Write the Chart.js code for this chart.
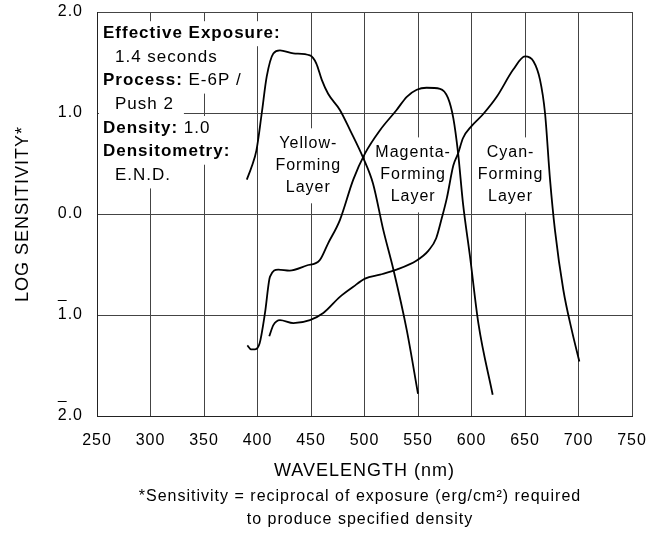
<!DOCTYPE html>
<html>
<head>
<meta charset="utf-8">
<script src="https://cdn.jsdelivr.net/npm/chart.js@4.4.0/dist/chart.umd.min.js"></script>
<style>
  html, body { margin: 0; padding: 0; background: #fff; }
  canvas { display: block; }
</style>
</head>
<body>
<canvas id="chart" width="665" height="542"></canvas>
<script>
// Spectral sensitivity curves (wavelength nm / log sensitivity)
const yellowNm  = [390, 394.6, 399, 404, 408.6, 414.8, 421, 433.5, 449, 455, 460, 466, 477, 486.5, 499, 508, 517.6, 527, 539.5, 550];
const yellowLog = [0.34, 0.47, 0.63, 1.0, 1.36, 1.59, 1.62, 1.59, 1.57, 1.49, 1.33, 1.19, 1.03, 0.83, 0.55, 0.30, -0.16, -0.55, -1.15, -1.78];

const magentaNm  = [390.5, 394, 397.7, 402, 407, 411.7, 419.4, 430, 446, 458, 466, 477, 489.5, 500.5, 514.5, 530, 539.5, 548.8, 558, 570.6, 578, 583, 587.5, 592, 598.6, 606.4, 619.8];
const magentaLog = [-1.30, -1.34, -1.34, -1.28, -0.98, -0.62, -0.55, -0.56, -0.51, -0.46, -0.29, -0.06, 0.34, 0.60, 0.83, 1.03, 1.16, 1.23, 1.25, 1.24, 1.15, 0.95, 0.60, 0.11, -0.42, -1.08, -1.79];

const cyanNm  = [411, 414.8, 421, 433.5, 449, 461.5, 477, 489.5, 500.5, 514.5, 530, 548.8, 560, 567, 572, 577, 583, 587.5, 592, 600, 611, 623.6, 639, 650, 658, 664, 668.7, 673.4, 678, 685.8, 693.7, 700.8];
const cyanLog = [-1.21, -1.10, -1.05, -1.08, -1.05, -0.98, -0.82, -0.72, -0.64, -0.60, -0.55, -0.46, -0.36, -0.24, -0.05, 0.16, 0.48, 0.60, 0.75, 0.87, 0.99, 1.16, 1.43, 1.56, 1.51, 1.33, 1.0, 0.34, -0.16, -0.75, -1.15, -1.46];

// y ticks: negative characteristics are written with a bar over the digit
const yTickValues = [-2, -1, 0, 1, 2];
const yTickLabels = ['2.0', '1.0', '0.0', '1.0', '2.0'];
const yTickBarred = [true, true, false, false, false];

const boxText = [
  [['Effective Exposure:', true]],
  [['1.4 seconds', false]],
  [['Process:', true], [' E-6P /', false]],
  [['Push 2', false]],
  [['Density:', true], [' 1.0', false]],
  [['Densitometry:', true]],
  [['E.N.D.', false]]
];
const layerLabels = [
  ['Yellow-', 'Forming', 'Layer'],
  ['Magenta-', 'Forming', 'Layer'],
  ['Cyan-', 'Forming', 'Layer']
];
const footnote = [
  '*Sensitivity = reciprocal of exposure (erg/cm\u00B2) required',
  'to produce specified density'
];

const FONT = "'Liberation Sans', Arial, Helvetica, sans-serif";
const toPts = (xs, ys) => xs.map((x, i) => ({ x: x, y: ys[i] }));

// text overlays: condition box, layer names, tick bars, footnote
const notesPlugin = {
  id: 'notes',
  beforeDraw(chart) {
    chart.ctx.letterSpacing = '1px';
  },
  beforeDatasetsDraw(chart) {
    const { ctx } = chart;
    const xs = chart.scales.x, ys = chart.scales.y;
    ctx.save();
    ctx.textBaseline = 'middle';
    ctx.fillStyle = '#000';

    // condition box, top left
    const left = xs.getPixelForValue(255.6);
    const top = ys.getPixelForValue(1.79);
    const step = 23.7;
    const indent = [0, 12, 0, 12, 0, 0, 12];
    const rows = boxText.map((segs, i) => {
      let w = 0;
      segs.forEach(([t, b]) => { ctx.font = (b ? 'bold ' : '') + '17px ' + FONT; w += ctx.measureText(t).width; });
      return { segs, x: left + indent[i], y: top + i * step, w };
    });
    ctx.fillStyle = '#fff';
    rows.forEach(r => ctx.fillRect(left - 4, r.y - 12, r.x - left + r.w + 14, 25));
    ctx.fillStyle = '#000';
    rows.forEach(r => {
      let x = r.x;
      r.segs.forEach(([t, b]) => {
        ctx.font = (b ? 'bold ' : '') + '17px ' + FONT;
        ctx.textAlign = 'left';
        ctx.fillText(t, x, r.y);
        x += ctx.measureText(t).width;
      });
    });

    // layer labels
    const anchors = [[447, 0.70], [545, 0.61], [636, 0.61]];
    ctx.font = '16px ' + FONT;
    ctx.textAlign = 'center';
    layerLabels.forEach((lines, k) => {
      const cx = xs.getPixelForValue(anchors[k][0]);
      const cy = ys.getPixelForValue(anchors[k][1]);
      const w = Math.max(...lines.map(l => ctx.measureText(l).width));
      ctx.fillStyle = '#fff';
      ctx.fillRect(cx - w / 2 - 4, cy - 15, w + 8, (lines.length - 1) * 22 + 31);
      ctx.fillStyle = '#000';
      lines.forEach((l, i) => ctx.fillText(l, cx + 0.5, cy + i * 22));
    });
    ctx.restore();
  },
  afterDraw(chart) {
    const { ctx } = chart;
    const ys = chart.scales.y;
    ctx.save();
    ctx.font = '16px ' + FONT;
    ctx.fillStyle = '#000';
    ctx.strokeStyle = '#000';
    ctx.lineWidth = 1;

    // bar over the first digit of negative y tick labels
    yTickValues.forEach((v, i) => {
      if (!yTickBarred[i]) return;
      const label = yTickLabels[i];
      const right = ys.right - ys.options.ticks.padding;
      const x0 = right - ctx.measureText(label).width;
      const w = ctx.measureText(label[0]).width - 1;
      const py = Math.round(ys.getPixelForValue(v) - 15) + 0.5;
      ctx.beginPath();
      ctx.moveTo(x0, py);
      ctx.lineTo(x0 + w, py);
      ctx.stroke();
    });

    // footnote under the x axis title
    ctx.textAlign = 'center';
    ctx.textBaseline = 'middle';
    footnote.forEach((l, i) => ctx.fillText(l, 360, 497 + i * 23));
    ctx.restore();
  }
};

const lineStyle = {
  borderColor: '#000',
  borderWidth: 1.8,
  pointRadius: 0,
  fill: false,
  cubicInterpolationMode: 'monotone'
};

new Chart(document.getElementById('chart'), {
  type: 'line',
  data: {
    datasets: [
      { label: 'Yellow-Forming Layer', data: toPts(yellowNm, yellowLog), ...lineStyle },
      { label: 'Magenta-Forming Layer', data: toPts(magentaNm, magentaLog), ...lineStyle },
      { label: 'Cyan-Forming Layer', data: toPts(cyanNm, cyanLog), ...lineStyle }
    ]
  },
  options: {
    responsive: false,
    animation: false,
    layout: { padding: { left: 0, top: 12, right: 33, bottom: 56 } },
    plugins: { legend: { display: false }, tooltip: { enabled: false } },
    scales: {
      x: {
        type: 'linear',
        min: 250, max: 750,
        afterFit: s => { s.height = 70; s.paddingLeft = 0; s.paddingRight = 0; },
        ticks: { stepSize: 50, color: '#000', padding: 15, font: { family: FONT, size: 16 } },
        grid: { color: '#444', lineWidth: 1, drawTicks: false },
        border: { color: '#222', width: 1 },
        title: { display: true, text: 'WAVELENGTH (nm)', color: '#000', padding: { bottom: 4 }, font: { family: FONT, size: 18 } }
      },
      y: {
        min: -2, max: 2,
        afterFit: s => { s.width = 97; s.paddingTop = 0; s.paddingBottom = 0; },
        afterBuildTicks: s => { s.ticks = yTickValues.map(v => ({ value: v })); },
        ticks: {
          color: '#000', padding: 14, font: { family: FONT, size: 16 },
          callback: v => yTickLabels[yTickValues.indexOf(v)]
        },
        grid: { color: '#444', lineWidth: 1, drawTicks: false },
        border: { color: '#222', width: 1 },
        title: { display: true, text: 'LOG SENSITIVITY*', color: '#000', padding: { top: 12 }, font: { family: FONT, size: 18 } }
      }
    }
  },
  plugins: [notesPlugin]
});
</script>
</body>
</html>
